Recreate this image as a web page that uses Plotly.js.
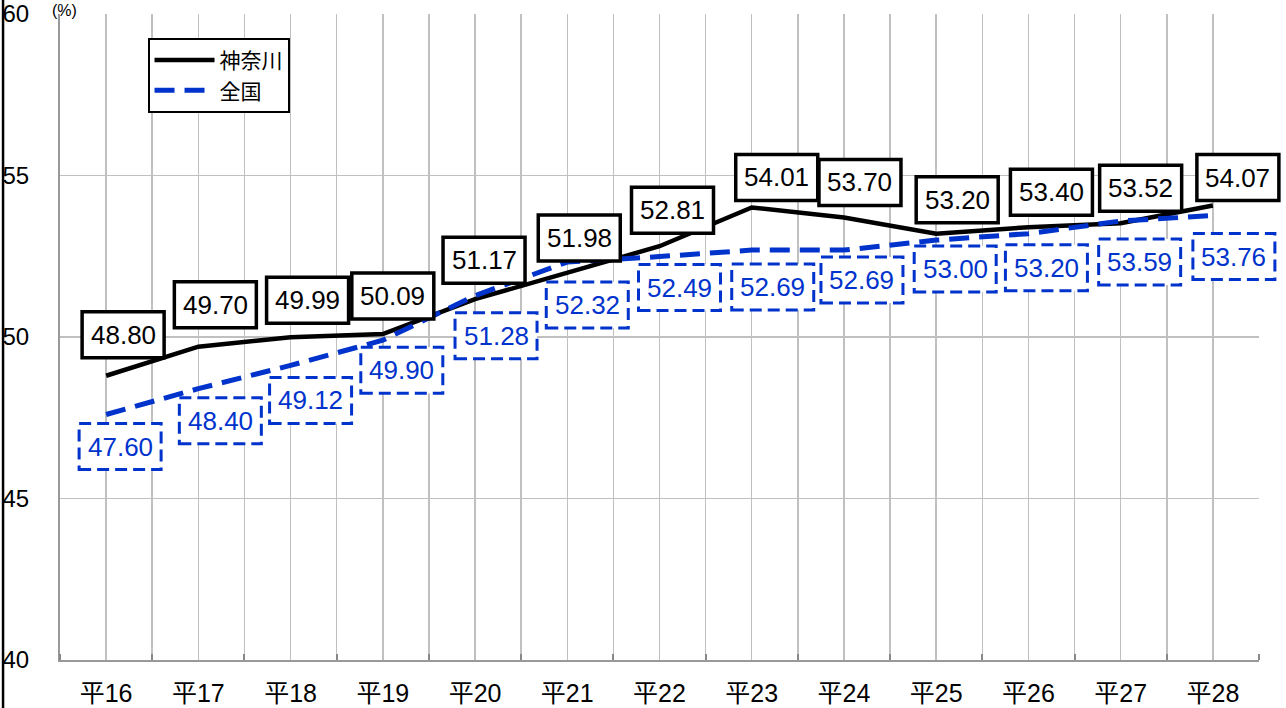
<!DOCTYPE html>
<html>
<head>
<meta charset="utf-8">
<script src="https://cdn.plot.ly/plotly-3.0.1.min.js"></script>
<style>html,body{margin:0;padding:0;background:#fff;}#chart{width:1286px;height:708px;}</style>
</head>
<body>
<div id="chart"></div>
<script>
// ---- data ----
var categories = ["平16","平17","平18","平19","平20","平21","平22","平23","平24","平25","平26","平27","平28"];
var kanagawa = [48.80, 49.70, 49.99, 50.09, 51.17, 51.98, 52.81, 54.01, 53.70, 53.20, 53.40, 53.52, 54.07];
var zenkoku  = [47.60, 48.40, 49.12, 49.90, 51.28, 52.32, 52.49, 52.69, 52.69, 53.00, 53.20, 53.59, 53.76];
var seriesNames = ["神奈川", "全国"];

// ---- label placement (pixel offsets, styling only) ----
var kOff = [[17,41],[17,42],[17,37],[10,38],[9,39],[12,35],[13,36],[25,30],[16,35],[21,34],[23,35],[20,35],[25,28]];
var zOff = [[14,-32],[22,-32],[20,-35],[19,-30],[21,-40],[20,-43],[20,-31],[21,-37],[18,-30],[19,-29],[18,-34],[19,-41],[21,-41]];

var FONT = "Arial, 'Liberation Sans', 'Noto Sans CJK JP', sans-serif";
var BLUE = "#0033cc";
var xIdx = categories.map(function(c, i){ return i; });
var xRange = [-0.5, categories.length - 0.5];
var boundaries = [];
for (var b = 0; b <= categories.length; b++) boundaries.push(b - 0.5);
function toPaperX(i){ return (i - xRange[0]) / (xRange[1] - xRange[0]); }

var traces = [
  {x: xIdx, y: kanagawa, name: seriesNames[0], type: "scatter", mode: "lines",
   line: {color: "#000000", width: 4.5}},
  {x: xIdx, y: zenkoku, name: seriesNames[1], type: "scatter", mode: "lines",
   line: {color: BLUE, width: 5, dash: "20px,10px"}}
];

var shapes = [];
var annotations = [];
var BW = 41, BH = 23;
function addLabel(i, v, off, color, dash) {
  shapes.push({type: "rect", layer: "above",
    xref: "paper", yref: "y", xsizemode: "pixel", ysizemode: "pixel",
    xanchor: toPaperX(i), yanchor: v,
    x0: off[0] - BW, x1: off[0] + BW, y0: off[1] - BH, y1: off[1] + BH,
    fillcolor: "#ffffff",
    line: {color: color, width: dash ? 3 : 3.5, dash: dash ? "12px,6px" : "solid"}});
  annotations.push({x: i, y: v, xref: "x", yref: "y", showarrow: false,
    xshift: off[0], yshift: off[1], text: v.toFixed(2),
    font: {family: FONT, size: 26, color: color}});
}
kanagawa.forEach(function(v, i){ addLabel(i, v, kOff[i], "#000000", false); });
zenkoku.forEach(function(v, i){ addLabel(i, v, zOff[i], BLUE, true); });

// left outer border line
shapes.push({type: "line", xref: "paper", yref: "paper", x0: -0.0475, x1: -0.0475, y0: -0.2, y1: 1.2,
  line: {color: "#000000", width: 2.5}});

annotations.push({xref: "paper", yref: "paper", x: 0.004, y: 1.0217, xanchor: "center", yanchor: "top",
  yshift: -1, borderpad: 0, showarrow: false, text: "(%)", font: {family: FONT, size: 16, color: "#000"}});

var layout = {
  width: 1286, height: 708,
  margin: {l: 60, r: 27, t: 14, b: 48},
  paper_bgcolor: "#ffffff", plot_bgcolor: "#ffffff",
  showlegend: true,
  legend: {x: 0.073, y: 0.963, xanchor: "left", yanchor: "top",
    bordercolor: "#000000", borderwidth: 2, bgcolor: "#ffffff",
    font: {family: FONT, size: 21, color: "#000"}, tracegroupgap: 0, itemwidth: 60},
  xaxis: {range: xRange, tickmode: "array", tickvals: xIdx, ticktext: categories,
    showgrid: true, gridcolor: "#c0c0c0", gridwidth: 1.5, zeroline: false, ticks: "",
    showline: true, linecolor: "#999999", linewidth: 2,
    ticklabelstandoff: 10,
    tickfont: {family: FONT, size: 25, color: "#000"},
    minor: {tickmode: "array", tickvals: boundaries, showgrid: true, gridcolor: "#c0c0c0", gridwidth: 1.5,
      ticks: "inside", ticklen: 6, tickcolor: "#888888", tickwidth: 2}},
  yaxis: {range: [40, 60], tickmode: "linear", tick0: 40, dtick: 5,
    showgrid: true, gridcolor: "#c0c0c0", gridwidth: 1.5, zeroline: false, ticks: "",
    showline: true, linecolor: "#999999", linewidth: 2,
    ticklabelstandoff: 24,
    tickfont: {family: FONT, size: 24, color: "#000"}},
  shapes: shapes,
  annotations: annotations
};

Plotly.newPlot("chart", traces, layout, {displayModeBar: false, staticPlot: true});
</script>
</body>
</html>
